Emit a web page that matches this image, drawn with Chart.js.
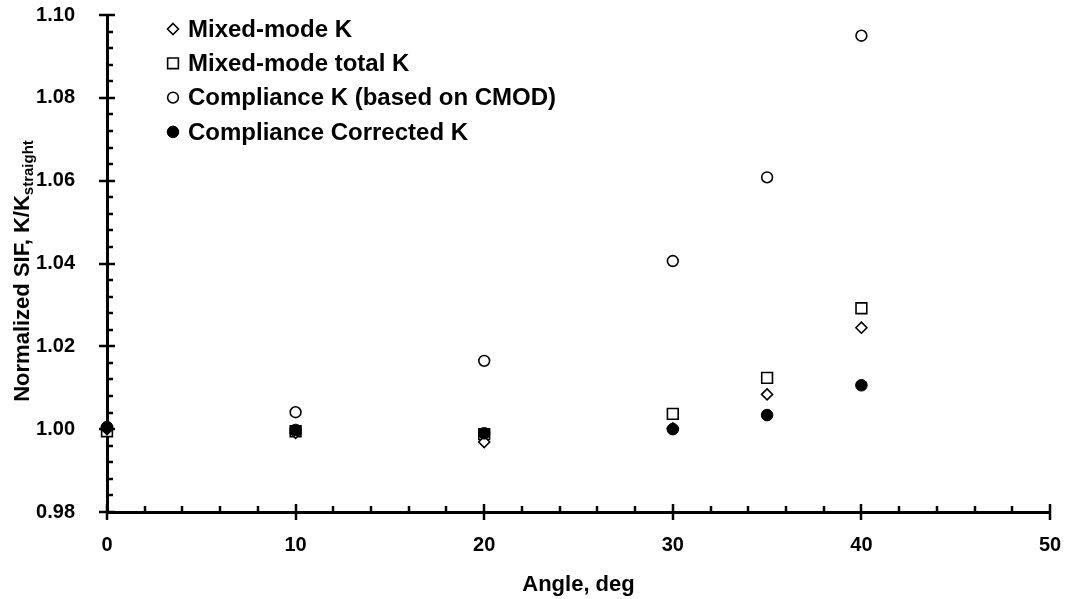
<!DOCTYPE html>
<html>
<head>
<meta charset="utf-8">
<script src="https://cdn.jsdelivr.net/npm/chart.js@4/dist/chart.umd.min.js"></script>
<style>
  html, body { margin: 0; padding: 0; background: #fff; }
  #wrap { width: 1070px; height: 599px; }
</style>
</head>
<body>
<div id="wrap"><canvas id="myChart" width="1070" height="599"></canvas></div>
<script>
// angles (deg) and normalized SIF values
var angles = [0, 10, 20, 30, 35, 40];
var mixedModeK = [1.0000, 0.9991, 0.9969, 1.0002, 1.0084, 1.0245];
var mixedModeTotalK = [0.9995, 0.9995, 0.9988, 1.0037, 1.0124, 1.0292];
var complianceK = [1.0000, 1.0041, 1.0165, 1.0406, 1.0608, 1.0950];
var complianceCorrectedK = [1.0005, 0.9998, 0.9990, 1.0000, 1.0034, 1.0106];

var seriesNames = ["Mixed-mode K", "Mixed-mode total K", "Compliance K (based on CMOD)", "Compliance Corrected K"];

var xMin = 0, xMax = 50, xStep = 10, xMinorStep = 2;
var yMin = 0.98, yMax = 1.10, yStep = 0.02, yMinorStep = 0.004;

var FONT = "'Liberation Sans', Arial, sans-serif";

function toPoints(ys) {
  return angles.map(function (a, i) { return { x: a, y: ys[i] }; });
}

// axis ticks: major ones cross the axis line, minor ones point inward
var axisTicks = {
  id: "axisTicks",
  beforeDatasetsDraw: function (chart) {
    var ctx = chart.ctx, xs = chart.scales.x, ys = chart.scales.y, area = chart.chartArea;
    ctx.save();
    ctx.strokeStyle = "#000";
    ctx.lineWidth = 2.5;
    var n = Math.round((yMax - yMin) / yMinorStep);
    var every = Math.round(yStep / yMinorStep);
    for (var i = 0; i <= n; i++) {
      var py = Math.round(ys.getPixelForValue(yMin + i * yMinorStep));
      var major = i % every === 0;
      ctx.beginPath();
      ctx.moveTo(area.left - (major ? 8 : 0), py);
      ctx.lineTo(area.left + (major ? 8 : 6), py);
      ctx.stroke();
    }
    n = Math.round((xMax - xMin) / xMinorStep);
    every = Math.round(xStep / xMinorStep);
    for (var j = 0; j <= n; j++) {
      var px = Math.round(xs.getPixelForValue(xMin + j * xMinorStep));
      var maj = j % every === 0;
      ctx.beginPath();
      ctx.moveTo(px, area.bottom + (maj ? 8 : 0));
      ctx.lineTo(px, area.bottom - (maj ? 8 : 6));
      ctx.stroke();
    }
    ctx.restore();
  }
};

function drawMarker(ctx, ds, x, y) {
  var r = ds.pointRadius;
  ctx.save();
  ctx.lineWidth = ds.pointBorderWidth;
  ctx.strokeStyle = ds.pointBorderColor;
  ctx.fillStyle = ds.pointBackgroundColor;
  ctx.beginPath();
  if (ds.pointStyle === "rectRot") {
    ctx.moveTo(x, y - r); ctx.lineTo(x + r, y); ctx.lineTo(x, y + r); ctx.lineTo(x - r, y); ctx.closePath();
  } else if (ds.pointStyle === "rect") {
    var s = r * Math.SQRT1_2;
    ctx.rect(x - s, y - s, 2 * s, 2 * s);
  } else {
    ctx.arc(x, y, r, 0, Math.PI * 2);
  }
  ctx.fill();
  ctx.stroke();
  ctx.restore();
}

// legend inside the plot, top left, in series order
var plotLegend = {
  id: "plotLegend",
  afterDraw: function (chart) {
    var ctx = chart.ctx;
    var dsList = chart.data.datasets.slice().sort(function (a, b) { return a.legendIndex - b.legendIndex; });
    ctx.save();
    ctx.font = "bold 24px " + FONT;
    ctx.fillStyle = "#000";
    ctx.textBaseline = "middle";
    dsList.forEach(function (ds, i) {
      var y = 29 + i * 34.3;
      drawMarker(ctx, ds, 173, y);
      ctx.fillText(ds.label, 188, y + 1);
    });
    ctx.restore();
  }
};

// axis titles (the y one has a subscript)
var axisTitles = {
  id: "axisTitles",
  afterDraw: function (chart) {
    var ctx = chart.ctx, area = chart.chartArea;
    ctx.save();
    ctx.fillStyle = "#000";
    ctx.textBaseline = "middle";
    ctx.textAlign = "center";
    ctx.font = "bold 22px " + FONT;
    ctx.fillText("Angle, deg", (area.left + area.right) / 2, 585);

    var main = "Normalized SIF, K/K", sub = "straight";
    ctx.font = "bold 22px " + FONT;
    var wMain = ctx.measureText(main).width;
    ctx.font = "bold 15px " + FONT;
    var wSub = ctx.measureText(sub).width;
    var total = wMain + wSub;
    ctx.translate(23, 271);
    ctx.rotate(-Math.PI / 2);
    ctx.textAlign = "left";
    ctx.font = "bold 22px " + FONT;
    ctx.fillText(main, -total / 2, 0);
    ctx.font = "bold 15px " + FONT;
    ctx.fillText(sub, -total / 2 + wMain, 6);
    ctx.restore();
  }
};

var ctx = document.getElementById("myChart").getContext("2d");
var myChart = new Chart(ctx, {
  type: "scatter",
  data: {
    datasets: [
      {
        label: seriesNames[3], legendIndex: 3, order: 0, clip: false,
        data: toPoints(complianceCorrectedK),
        pointStyle: "circle", pointRadius: 5.8, pointBorderWidth: 1,
        pointBackgroundColor: "#000", pointBorderColor: "#000"
      },
      {
        label: seriesNames[0], legendIndex: 0, order: 1, clip: false,
        data: toPoints(mixedModeK),
        pointStyle: "rectRot", pointRadius: 5.5, pointBorderWidth: 1.6,
        pointBackgroundColor: "#fff", pointBorderColor: "#000"
      },
      {
        label: seriesNames[1], legendIndex: 1, order: 2, clip: false,
        data: toPoints(mixedModeTotalK),
        pointStyle: "rect", pointRadius: 7.6, pointBorderWidth: 1.6,
        pointBackgroundColor: "#fff", pointBorderColor: "#000"
      },
      {
        label: seriesNames[2], legendIndex: 2, order: 3, clip: false,
        data: toPoints(complianceK),
        pointStyle: "circle", pointRadius: 5.4, pointBorderWidth: 1.6,
        pointBackgroundColor: "#fff", pointBorderColor: "#000"
      }
    ]
  },
  options: {
    responsive: false,
    animation: false,
    layout: { padding: { top: 15, right: 20, bottom: 0, left: 0 } },
    plugins: { legend: { display: false }, tooltip: { enabled: false } },
    elements: { point: { hoverRadius: 6 } },
    scales: {
      x: {
        type: "linear", min: xMin, max: xMax,
        grid: { display: false, drawTicks: false },
        border: { display: true, color: "#000", width: 3 },
        ticks: { stepSize: xStep, color: "#000", padding: 21, font: { family: FONT, size: 20, weight: "bold" } },
        afterFit: function (s) { s.height = 87; s.paddingLeft = 0; s.paddingRight = 0; }
      },
      y: {
        type: "linear", min: yMin, max: yMax,
        grid: { display: false, drawTicks: false },
        border: { display: true, color: "#000", width: 3 },
        ticks: {
          stepSize: yStep, color: "#000", padding: 32,
          font: { family: FONT, size: 20, weight: "bold" },
          callback: function (v) { return v.toFixed(2); }
        },
        afterFit: function (s) { s.width = 107; s.paddingTop = 0; s.paddingBottom = 0; }
      }
    }
  },
  plugins: [axisTicks, plotLegend, axisTitles]
});
</script>
</body>
</html>
